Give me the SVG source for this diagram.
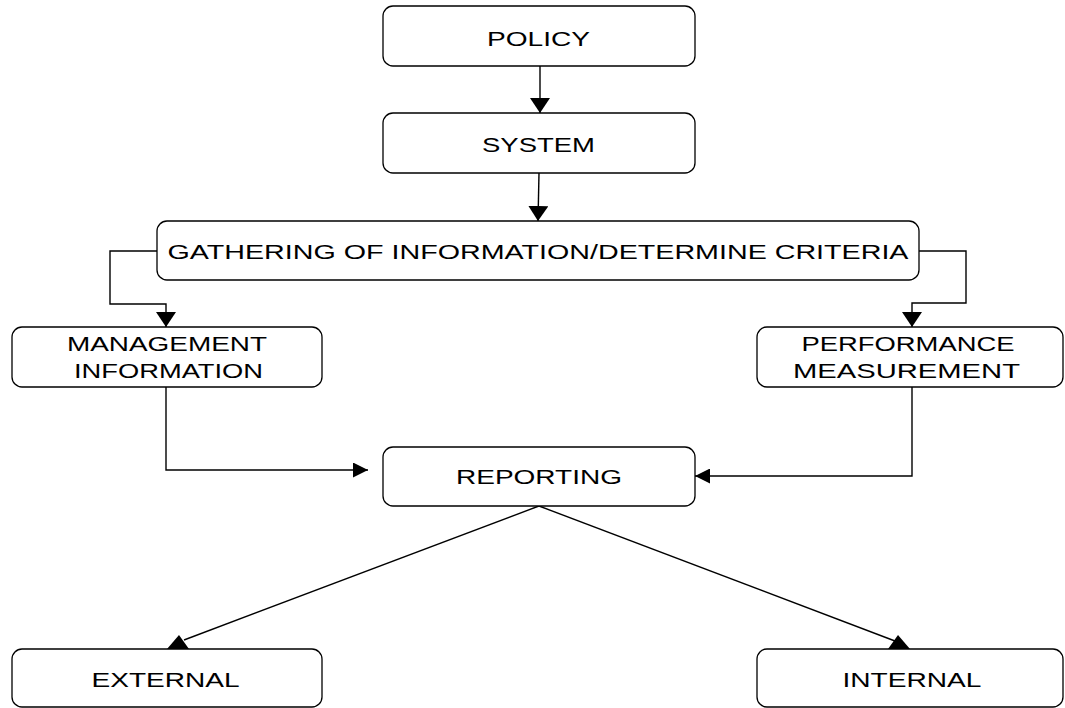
<svg xmlns="http://www.w3.org/2000/svg" width="1065" height="708" viewBox="0 0 1065 708">
  <style>
    .box { fill: #ffffff; stroke: #000000; stroke-width: 1.3; }
    .lbl { font-family: "Liberation Sans", Arial, sans-serif; font-size: 21px; fill: #000000; text-anchor: middle; }
    .conn { fill: none; stroke: #000000; stroke-width: 1.4; }
    .ah { fill: #000000; stroke: none; }
  </style>
  <defs>
    <marker id="arrowV" markerUnits="userSpaceOnUse" markerWidth="15" markerHeight="20" viewBox="0 0 15 20" refX="15" refY="10" orient="auto">
      <path d="M0,0 L15,10 L0,20 z" fill="#000000"/>
    </marker>
    <marker id="arrowH" markerUnits="userSpaceOnUse" markerWidth="15" markerHeight="15" viewBox="0 0 15 15" refX="15" refY="7.5" orient="auto">
      <path d="M0,0 L15,7.5 L0,15 z" fill="#000000"/>
    </marker>
  </defs>
  <rect width="1065" height="708" fill="#ffffff"/>

  <g id="connectors">
    <line class="conn" x1="540" y1="66" x2="540" y2="113" marker-end="url(#arrowV)"/>
    <line class="conn" x1="539" y1="173" x2="538" y2="221" marker-end="url(#arrowV)"/>
    <polyline class="conn" points="157,251 110,251 110,304 166,304 166,327" marker-end="url(#arrowV)"/>
    <polyline class="conn" points="919,251 966,251 966,303 912,303 912,327" marker-end="url(#arrowV)"/>
    <polyline class="conn" points="166,387 166,470 368,470" marker-end="url(#arrowH)"/>
    <polyline class="conn" points="912,387 912,476 695,476" marker-end="url(#arrowH)"/>
    <line class="conn" x1="539" y1="506" x2="184" y2="640"/>
    <polygon class="ah" points="167,649 189,649 179,635"/>
    <line class="conn" x1="539" y1="506" x2="895" y2="641"/>
    <polygon class="ah" points="888,649 910,649 898,635"/>
  </g>

  <g id="policy">
    <rect class="box" x="383" y="6" width="312" height="60" rx="10"/>
    <text class="lbl" x="538.5" y="46" textLength="103" lengthAdjust="spacingAndGlyphs">POLICY</text>
  </g>
  <g id="system">
    <rect class="box" x="383" y="113" width="312" height="60" rx="10"/>
    <text class="lbl" x="538.5" y="152" textLength="113" lengthAdjust="spacingAndGlyphs">SYSTEM</text>
  </g>
  <g id="gathering">
    <rect class="box" x="157" y="221" width="762" height="59" rx="10"/>
    <text class="lbl" x="538" y="259" textLength="741" lengthAdjust="spacingAndGlyphs">GATHERING OF INFORMATION/DETERMINE CRITERIA</text>
  </g>
  <g id="management">
    <rect class="box" x="12" y="327" width="310" height="60" rx="10"/>
    <text class="lbl" x="167" y="351" textLength="200" lengthAdjust="spacingAndGlyphs">MANAGEMENT</text>
    <text class="lbl" x="168.5" y="377.5" textLength="189" lengthAdjust="spacingAndGlyphs">INFORMATION</text>
  </g>
  <g id="performance">
    <rect class="box" x="757" y="327" width="306" height="60" rx="10"/>
    <text class="lbl" x="908" y="351" textLength="213" lengthAdjust="spacingAndGlyphs">PERFORMANCE</text>
    <text class="lbl" x="906.5" y="378" textLength="227" lengthAdjust="spacingAndGlyphs">MEASUREMENT</text>
  </g>
  <g id="reporting">
    <rect class="box" x="383" y="447" width="312" height="59" rx="10"/>
    <text class="lbl" x="539" y="484" textLength="166" lengthAdjust="spacingAndGlyphs">REPORTING</text>
  </g>
  <g id="external">
    <rect class="box" x="12" y="649" width="310" height="58" rx="10"/>
    <text class="lbl" x="165.5" y="687" textLength="148" lengthAdjust="spacingAndGlyphs">EXTERNAL</text>
  </g>
  <g id="internal">
    <rect class="box" x="757" y="649" width="306" height="58" rx="10"/>
    <text class="lbl" x="912" y="687" textLength="139" lengthAdjust="spacingAndGlyphs">INTERNAL</text>
  </g>
</svg>
